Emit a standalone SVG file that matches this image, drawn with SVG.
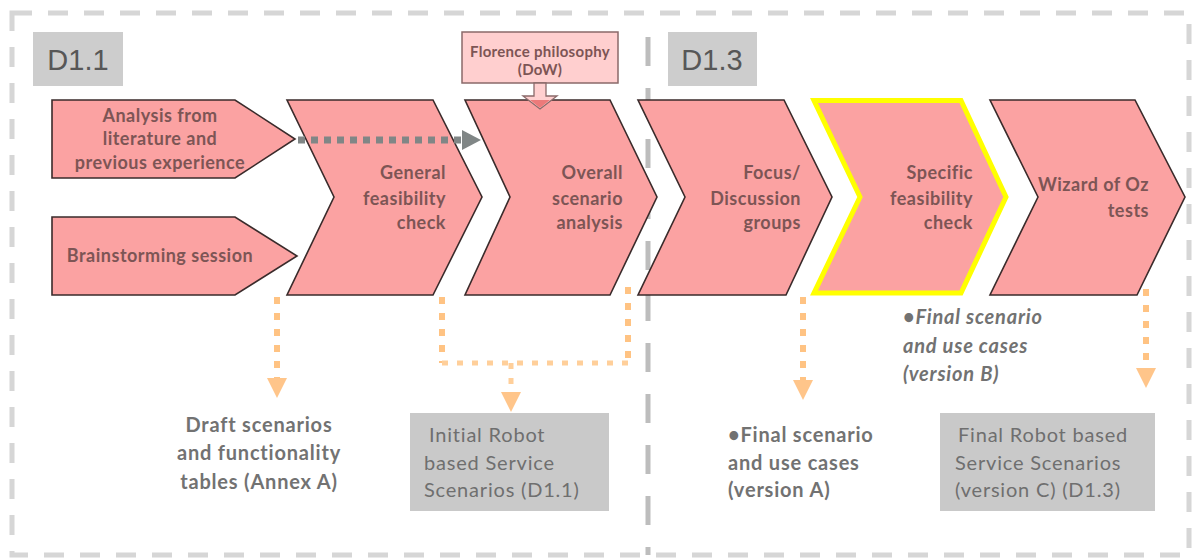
<svg xmlns="http://www.w3.org/2000/svg" width="1192" height="558" viewBox="0 0 1192 558">
<style>
.frame{fill:none;stroke:#d6d6d6;stroke-width:5;stroke-dasharray:20 16}
.divider{fill:none;stroke:#bdbdbd;stroke-width:5;stroke-dasharray:29 22}
.tag{fill:#cdcdcd}
.tagt{font-family:"Liberation Sans",Arial,sans-serif;font-size:29px;fill:#575757;text-anchor:middle}
.chev{fill:#fba2a2;stroke:#3a2b2b;stroke-width:1.6;stroke-linejoin:miter}
.hl{fill:#fba2a2;stroke:#ffff00;stroke-width:5;stroke-linejoin:miter}
.ct{font-family:Lato,"Open Sans",sans-serif;font-weight:bold;font-size:18px;letter-spacing:0.5px;fill:#7d5555}
.end{text-anchor:end}
.mid{text-anchor:middle}
.flo{fill:#ffcfcf;stroke:#8a6a6a;stroke-width:1.5}
.flt{font-family:Lato,"Open Sans",sans-serif;font-weight:bold;font-size:15px;letter-spacing:0.3px;fill:#7d5555;text-anchor:middle}
.gbox{fill:#c9c9c9}
.gt{font-family:Lato,"Open Sans",sans-serif;font-size:20px;letter-spacing:0.8px;fill:#6f6f6f}
.bt{font-family:Lato,"Open Sans",sans-serif;font-weight:bold;font-size:20px;letter-spacing:0.8px;fill:#727272}
.it{font-style:italic}
.odot{fill:none;stroke:#ffc383;stroke-width:6;stroke-dasharray:7 9}
.odot2{fill:none;stroke:#ffcf9a;stroke-width:5;stroke-dasharray:6 9}
.gdot{fill:none;stroke:#808686;stroke-width:7;stroke-dasharray:7 6}
</style>
<defs>
<marker id="oh" markerUnits="userSpaceOnUse" markerWidth="20" markerHeight="20" refX="0" refY="10" orient="auto" viewBox="0 0 20 20"><path d="M0,0 L20,10 L0,20 Z" fill="#ffc58a"/></marker>
<marker id="gh" markerUnits="userSpaceOnUse" markerWidth="19" markerHeight="20" refX="0" refY="10" orient="auto" viewBox="0 0 19 20"><path d="M0,0 L19,10 L0,20 Z" fill="#808686"/></marker>
</defs>
<rect x="0" y="0" width="1192" height="558" fill="#ffffff"/>
<rect class="frame" x="12" y="13" width="1177" height="542"/>
<line class="divider" x1="648" y1="37" x2="648" y2="555"/>

<g id="tag-d11"><rect class="tag" x="33" y="32" width="90" height="54"/><text class="tagt" x="78" y="70">D1.1</text></g>
<g id="tag-d13"><rect class="tag" x="668" y="32" width="89" height="54"/><text class="tagt" x="712" y="70">D1.3</text></g>

<g id="n-analysis"><polygon class="chev" points="52,100 235,100 295,139 235,178 52,178"/>
<text class="ct mid" x="160" y="122">Analysis from</text><text class="ct mid" x="160" y="145">literature and</text><text class="ct mid" x="160" y="169">previous experience</text></g>
<g id="n-brainstorm"><polygon class="chev" points="52,217 235,217 297,256 235,295 52,295"/>
<text class="ct mid" x="160" y="262">Brainstorming session</text></g>

<g id="n-general"><polygon class="chev" points="287,100 433,100 482,197 433,295 287,295 334,197"/>
<text class="ct end" x="446" y="179">General</text><text class="ct end" x="446" y="205">feasibility</text><text class="ct end" x="446" y="229">check</text></g>
<g id="n-overall"><polygon class="chev" points="465,100 610,100 657,197 610,295 465,295 510,197"/>
<text class="ct end" x="623" y="179">Overall</text><text class="ct end" x="623" y="205">scenario</text><text class="ct end" x="623" y="229">analysis</text></g>
<g id="n-focus"><polygon class="chev" points="638,100 784,100 832,197 786,295 638,295 685,197"/>
<text class="ct end" x="801" y="179">Focus/</text><text class="ct end" x="801" y="205">Discussion</text><text class="ct end" x="801" y="229">groups</text></g>
<g id="n-specific"><polygon class="hl" points="814,100.5 961,100.5 1006,197 961,293 814,293 860,197"/>
<text class="ct end" x="973" y="179">Specific</text><text class="ct end" x="973" y="205">feasibility</text><text class="ct end" x="973" y="229">check</text></g>
<g id="n-wizard"><polygon class="chev" points="990,100 1135,100 1185,197 1137,295 990,295 1038,197"/>
<text class="ct end" x="1149" y="191">Wizard of Oz</text><text class="ct end" x="1149" y="217">tests</text></g>

<g id="n-florence"><rect class="flo" x="462" y="32" width="156" height="51"/>
<text class="flt" x="540" y="57">Florence philosophy</text><text class="flt" x="540" y="75">(DoW)</text>
<polygon points="534,83 546,83 546,96 557,96 540,109 523,96 534,96" fill="#ffcfcf" stroke="#8a6a6a" stroke-width="1.3"/>
<polygon points="530,100 550,100 540,108" fill="#ec7a7a"/></g>

<g id="out-draft"><text class="bt mid" x="259" y="432">Draft scenarios</text><text class="bt mid" x="259" y="460">and functionality</text><text class="bt mid" x="259" y="489">tables (Annex A)</text></g>
<g id="out-initial"><rect class="gbox" x="410" y="413" width="199" height="98"/>
<text class="gt" x="429" y="442">Initial Robot</text><text class="gt" x="424" y="470">based Service</text><text class="gt" x="424" y="497">Scenarios (D1.1)</text></g>
<g id="out-versionA"><text class="bt" x="728" y="442">•Final scenario</text><text class="bt" x="728" y="470">and use cases</text><text class="bt" x="728" y="497">(version A)</text></g>
<g id="out-versionB"><text class="bt it" x="903" y="324">•Final scenario</text><text class="bt it" x="903" y="353">and use cases</text><text class="bt it" x="903" y="381">(version B)</text></g>
<g id="out-final"><rect class="gbox" x="940" y="413" width="215" height="98"/>
<text class="gt" x="958" y="442">Final Robot based</text><text class="gt" x="955" y="470">Service Scenarios</text><text class="gt" x="955" y="497">(version C) (D1.3)</text></g>

<g id="connectors">
<path class="gdot" d="M298,140 H462" marker-end="url(#gh)"/>
<path class="odot" d="M277,297 V378" marker-end="url(#oh)"/>
<path class="odot" d="M442,297 V363"/>
<path class="odot" d="M628,287 V363"/>
<path class="odot2" d="M442,363 H628"/>
<path class="odot2" d="M511,363 V392" marker-end="url(#oh)"/>
<path class="odot" d="M803,297 V380" marker-end="url(#oh)"/>
<path class="odot" d="M1146,289 V368" marker-end="url(#oh)"/>
</g>
</svg>
